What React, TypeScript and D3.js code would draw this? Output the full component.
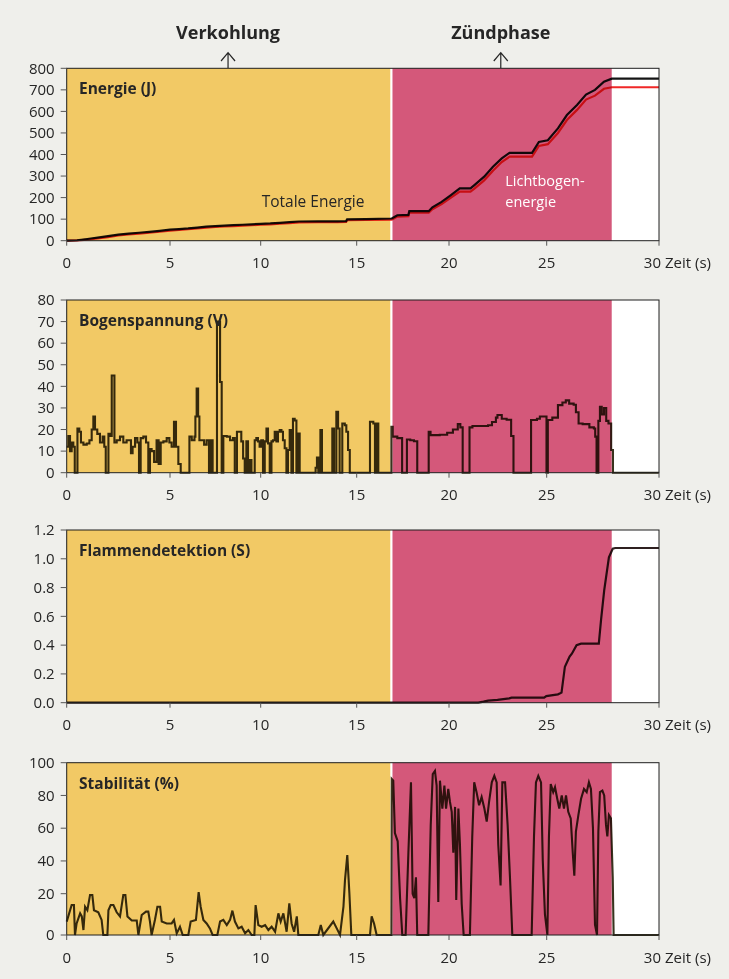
import React from 'react';
import * as d3 from 'd3';

type Pt = [number, number];

// time axis (s) and phases
const timeTicks = [0, 5, 10, 15, 20, 25, 30];
const phaseNames = ['Verkohlung', 'Zündphase'];
const phaseBounds = [0, 16.9, 27.9, 30];
const phaseLabelTimes = [8.2, 22.65];

const energyTicks = [0, 100, 200, 300, 400, 500, 600, 700, 800];
const voltageTicks = [0, 10, 20, 30, 40, 50, 60, 70, 80];
const flameTicks = [0, 0.2, 0.4, 0.6, 0.8, 1.0, 1.2];
const stabilityTicks = [0, 20, 40, 60, 80, 100];

// Energie (J)
const energyTotal: Pt[] = [
  [0, 0], [0.5, 2], [1, 8], [1.5, 14], [2, 21], [2.5, 28], [3, 33], [3.5, 37], [4, 41], [4.5, 46],
  [5, 51], [5.5, 54], [6, 57], [6.5, 61], [7, 65], [7.5, 68], [8, 70], [8.5, 72], [9, 74], [9.5, 76],
  [10, 78], [10.5, 80], [11, 83], [11.5, 86], [12, 89], [13, 90], [14, 90], [14.45, 91], [14.5, 99],
  [15.5, 100], [16.9, 103], [17.2, 118], [17.8, 120], [17.85, 137], [18.9, 137], [19.1, 155],
  [19.6, 180], [20.1, 212], [20.55, 243], [21.1, 243], [21.3, 258], [21.8, 297], [22.25, 343],
  [22.7, 382], [23.1, 408], [24.25, 408], [24.6, 458], [25.05, 466], [25.5, 521], [25.9, 583],
  [26.35, 630], [26.75, 678], [27.15, 700], [27.55, 738], [27.9, 752], [30, 752],
];
const energyArc: Pt[] = [
  [0, 0], [0.5, 1], [1, 5], [1.5, 11], [2, 17], [2.5, 24], [3, 29], [3.5, 33], [4, 37], [4.5, 42],
  [5, 47], [5.5, 50], [6, 53], [6.5, 57], [7, 61], [7.5, 64], [8, 66], [8.5, 68], [9, 70], [9.5, 72],
  [10, 74], [10.5, 76], [11, 79], [11.5, 82], [12, 85], [13, 86], [14, 86], [14.45, 87], [14.5, 95],
  [15.5, 96], [16.9, 98], [17.2, 112], [17.8, 114], [17.85, 130], [18.9, 130], [19.1, 146],
  [19.6, 170], [20.1, 200], [20.55, 228], [21.1, 228], [21.3, 242], [21.8, 280], [22.25, 325],
  [22.7, 365], [23.1, 390], [24.25, 390], [24.6, 440], [25.05, 448], [25.5, 500], [25.9, 560],
  [26.35, 607], [26.75, 655], [27.15, 673], [27.55, 705], [27.9, 712], [30, 712],
];

// Bogenspannung (V)
const voltage: Pt[] = [
  [0, 12], [0.08, 17], [0.16, 10], [0.24, 14], [0.32, 12], [0.39, 0], [0.52, 20.5], [0.61, 19],
  [0.69, 14], [0.81, 13], [0.97, 13.5], [1.1, 15], [1.21, 20], [1.29, 26], [1.37, 20], [1.48, 18],
  [1.61, 14], [1.74, 16.7], [1.82, 12], [1.89, 0], [2.02, 18], [2.1, 17], [2.18, 45], [2.31, 14],
  [2.42, 15], [2.58, 16.7], [2.74, 14], [2.9, 15], [3.11, 9], [3.19, 12], [3.31, 16], [3.42, 14],
  [3.5, 0], [3.58, 16], [3.71, 16.7], [3.84, 14], [3.95, 0], [4.03, 11], [4.11, 10], [4.23, 5],
  [4.35, 15], [4.45, 4], [4.55, 14], [4.68, 14.5], [4.84, 16], [4.97, 14], [5.09, 12], [5.22, 23.6],
  [5.33, 12], [5.46, 4], [5.59, 0], [6.07, 16.7], [6.2, 15], [6.35, 16.7], [6.4, 26], [6.47, 39],
  [6.55, 26], [6.62, 15], [6.75, 15], [6.88, 13], [7.02, 15], [7.15, 0], [7.24, 15], [7.35, 0],
  [7.59, 70], [7.76, 42], [7.85, 0], [7.94, 17], [8.13, 16.7], [8.31, 15], [8.47, 16], [8.57, 0],
  [8.69, 19], [8.93, 14.5], [9.03, 6.6], [9.12, 0], [9.21, 14.5], [9.3, 0], [9.39, 5.9], [9.49, 0],
  [9.67, 15], [9.76, 16], [9.85, 14.5], [9.94, 12], [10.03, 15], [10.12, 0], [10.21, 14.5],
  [10.3, 20.5], [10.38, 13.6], [10.47, 0], [10.56, 14.5], [10.64, 15], [10.73, 19], [10.82, 14.5],
  [10.9, 19], [10.99, 19.8], [11.08, 19], [11.16, 15], [11.25, 11.3], [11.34, 0], [11.42, 10.5],
  [11.51, 19.8], [11.6, 0], [11.68, 25], [11.77, 24.2], [11.86, 0], [11.94, 18.1], [12.03, 0],
  [12.86, 2.3], [12.93, 7], [13.0, 0], [13.11, 19.8], [13.19, 0], [13.73, 20.5], [13.82, 0],
  [13.94, 28.2], [14.03, 20.5], [14.11, 0], [14.25, 22.8], [14.38, 22], [14.46, 19], [14.55, 10.5],
  [14.64, 0], [15.72, 23.6], [15.9, 22.8], [15.99, 0], [16.08, 22.8], [16.17, 0], [16.88, 21.3],
  [16.95, 16.7], [17.2, 16], [17.46, 0], [17.72, 15.4], [17.9, 15], [18.1, 14.6], [18.28, 0],
  [18.9, 19], [19.0, 17.4], [19.5, 17.6], [19.9, 18.5], [20.2, 20], [20.45, 22.5], [20.58, 21],
  [20.7, 0], [21.05, 21], [21.2, 21.6], [22.0, 22], [22.2, 23.5], [22.4, 25.5], [22.48, 26.7],
  [22.7, 25], [22.95, 24.5], [23.18, 17], [23.3, 0], [24.2, 24.4], [24.5, 25], [24.65, 26],
  [24.99, 0], [25.05, 24.4], [25.25, 25.5], [25.5, 31.3], [25.7, 32.5], [25.85, 33.5], [26.0, 32],
  [26.2, 31.5], [26.3, 28], [26.42, 22.8], [26.6, 22.5], [26.9, 21], [27.1, 20.5], [27.16, 16.7],
  [27.22, 0], [27.3, 24], [27.37, 30.5], [27.45, 27], [27.55, 30], [27.65, 24], [27.75, 22.8],
  [27.87, 10.5], [27.95, 0], [30, 0],
];

// Flammendetektion (S)
const flame: Pt[] = [
  [0, 0], [21.5, 0], [21.77, 0.007], [22.0, 0.014], [22.48, 0.02], [23.08, 0.03], [23.2, 0.035],
  [24.87, 0.035], [24.98, 0.046], [25.5, 0.058], [25.66, 0.07], [25.81, 0.25], [26.02, 0.32],
  [26.12, 0.34], [26.33, 0.4], [26.53, 0.41], [27.32, 0.41], [27.42, 0.575], [27.56, 0.78],
  [27.77, 1.01], [27.94, 1.07], [28.05, 1.075], [30, 1.075],
];

// Stabilität (%)
const stability: Pt[] = [
  [0, 6.5], [0.24, 14.5], [0.35, 14.5], [0.4, 0], [0.48, 5.6], [0.65, 10.5], [0.73, 9], [0.81, 2.4],
  [0.89, 13.7], [1.0, 12], [1.13, 19.4], [1.24, 19.4], [1.32, 12], [1.53, 11], [1.69, 7.3], [1.77, 0],
  [1.97, 0], [2.02, 12], [2.13, 14.5], [2.26, 14.5], [2.42, 11], [2.58, 9], [2.74, 19.4], [2.84, 19.4],
  [2.94, 9], [3.15, 7], [3.39, 7], [3.47, 0], [3.63, 9.7], [3.84, 11.3], [3.95, 11.3], [4.03, 6.5],
  [4.11, 0], [4.27, 7.3], [4.39, 13.7], [4.52, 13.7], [4.6, 6.5], [4.84, 5.6], [5.09, 5.6], [5.22, 7.3],
  [5.37, 0.8], [5.55, 4], [5.7, 0], [6.01, 0], [6.14, 6.5], [6.43, 7.3], [6.58, 21], [6.69, 13.7],
  [6.84, 7.3], [7.02, 5.6], [7.2, 3.2], [7.35, 0], [7.61, 0], [7.76, 6.5], [7.94, 7.3], [8.13, 4.8],
  [8.31, 7.3], [8.44, 11.8], [8.58, 6.5], [8.77, 3.2], [8.95, 4], [9.14, 0.8], [9.32, 2.4], [9.5, 0],
  [9.65, 0], [9.72, 14.5], [9.87, 4.8], [10.05, 4], [10.23, 4.8], [10.4, 2.4], [10.57, 4], [10.75, 1.6],
  [10.92, 10.5], [11.04, 6.5], [11.18, 10.5], [11.35, 1.6], [11.49, 15.3], [11.61, 5.6], [11.74, 1.6],
  [11.88, 9], [11.96, 0], [13.0, 0], [13.13, 4.8], [13.26, 0], [13.78, 6.5], [13.96, 3.2], [14.13, 0],
  [14.31, 13.7], [14.39, 28.3], [14.51, 43.6], [14.62, 20], [14.72, 0], [15.72, 0], [15.81, 9],
  [15.94, 5.6], [16.08, 0], [16.88, 0], [16.9, 90], [16.98, 89], [17.07, 57], [17.22, 52],
  [17.35, 17.8], [17.47, 0], [17.65, 0], [17.8, 45], [17.94, 88], [18.03, 20], [18.12, 17.8],
  [18.21, 30], [18.28, 0], [18.88, 0], [19.01, 62], [19.12, 93], [19.24, 95], [19.33, 86], [19.42, 16],
  [19.51, 89], [19.64, 72], [19.75, 86], [19.84, 72], [19.96, 84], [20.05, 76], [20.14, 70], [20.22, 45],
  [20.31, 73], [20.37, 17], [20.48, 72], [20.56, 50], [20.65, 15], [20.75, 0], [21.07, 0], [21.19, 55],
  [21.29, 88], [21.41, 82], [21.54, 74], [21.67, 79], [21.81, 72], [21.93, 64], [22.05, 76], [22.19, 88],
  [22.32, 92], [22.44, 88], [22.52, 50], [22.64, 25], [22.73, 88], [22.87, 88], [23.0, 62], [23.12, 30],
  [23.24, 0], [24.23, 0], [24.35, 55], [24.45, 88], [24.57, 92], [24.71, 88], [24.8, 40], [24.91, 10],
  [25.03, 0], [25.1, 55], [25.18, 87], [25.29, 82], [25.37, 85], [25.47, 78], [25.56, 72], [25.67, 80],
  [25.77, 72], [25.86, 80], [25.96, 70], [26.07, 66], [26.16, 45], [26.23, 31], [26.3, 58], [26.41, 68],
  [26.53, 78], [26.66, 84], [26.78, 82], [26.88, 88], [26.97, 84], [27.06, 60], [27.15, 5], [27.24, 0],
  [27.3, 58], [27.37, 82], [27.48, 83], [27.56, 80], [27.64, 62], [27.7, 55], [27.77, 68], [27.86, 66],
  [27.94, 30], [27.98, 0], [30, 0],
];

const W = 729;
const H = 979;
const FONT = "'Open Sans', 'Noto Sans', sans-serif";
const TXT = '#262626';
const phaseColors = ['#f2c965', '#d4587a', '#ffffff'];

// the printed time axis is not quite even, so the scale is piecewise
const x = d3.scaleLinear().domain(timeTicks).range([66.7, 170, 260.7, 356.7, 449, 546.7, 659]);

type Series = { data: Pt[]; color: string; width: number; step?: boolean };
type PanelProps = {
  label: string;
  top: number;
  bottom: number;
  domain: number[];
  ticks: number[];
  fmt: (v: number) => string;
  series: Series[];
  children?: (y: d3.ScaleLinear<number, number>) => React.ReactNode;
};

const Panel = ({ label, top, bottom, domain, ticks, fmt, series, children }: PanelProps) => {
  const [x0, x1] = [x(0), x(30)];
  // bottom part of some axes is stretched, again piecewise
  const range = domain.length === 2 ? [bottom, top] : [bottom, bottom - 41.3, top];
  const y = d3.scaleLinear().domain(domain).range(range);

  return (
    <g>
      {phaseColors.map((c, i) => (
        <rect key={i} x={x(phaseBounds[i])} y={top} width={x(phaseBounds[i + 1]) - x(phaseBounds[i])}
          height={bottom - top} fill={c} />
      ))}
      <rect x={x(phaseBounds[1]) - 1.5} y={top} width={2.2} height={bottom - top} fill="#ffffff" />
      {series.map((s, i) => {
        const line = d3.line<Pt>()
          .x((d) => x(d[0]))
          .y((d) => y(d[1]))
          .curve(s.step ? d3.curveStepAfter : d3.curveLinear);
        return (
          <path key={i} d={line(s.data) || ''} fill="none" stroke={s.color} strokeWidth={s.width}
            strokeLinejoin="miter" style={{ mixBlendMode: 'multiply' }} />
        );
      })}
      <rect x={x0} y={top} width={x1 - x0} height={bottom - top} fill="none" stroke="#1e1e1e" strokeWidth={1} />
      {ticks.map((t) => (
        <g key={t}>
          <line x1={x0 - 6} x2={x0} y1={y(t)} y2={y(t)} stroke="#555" strokeWidth={1} />
          <text x={x0 - 12} y={y(t)} dy="0.35em" textAnchor="end" fontSize={15} fill={TXT}>{fmt(t)}</text>
        </g>
      ))}
      {timeTicks.map((t, i) => (
        <g key={t}>
          <line x1={x(t)} x2={x(t)} y1={bottom} y2={bottom + 5} stroke="#555" strokeWidth={1} />
          <text x={i === timeTicks.length - 1 ? x(t) + 2 : x(t)} y={bottom + 27.6}
            textAnchor={i === timeTicks.length - 1 ? 'end' : 'middle'} fontSize={15} fill={TXT}>{t}</text>
        </g>
      ))}
      <text x={x1 + 6} y={bottom + 27.6} fontSize={15} fill={TXT}>Zeit (s)</text>
      <text x={79} y={top + 25.8} fontSize={15.5} fontWeight="bold" fill={TXT}>{label}</text>
      {children && children(y)}
    </g>
  );
};

export default function App() {
  return (
    <svg width={W} height={H} style={{ position: 'absolute', left: 0, top: 0 }} fontFamily={FONT}>
      <rect width={W} height={H} fill="#efefeb" />
      {phaseNames.map((n, i) => {
        const cx = x(phaseLabelTimes[i]);
        return (
          <g key={n}>
            <text x={cx} y={39.3} textAnchor="middle" fontSize={18} fontWeight="bold" fill={TXT}>{n}</text>
            <path d={`M${cx},68 V52.7 M${cx - 7},61 L${cx},52.7 L${cx + 7},61`} fill="none" stroke={TXT} strokeWidth={1.2} />
          </g>
        );
      })}
      <Panel label="Energie (J)" top={68.3} bottom={240.7} domain={[0, 800]} ticks={energyTicks}
        fmt={(v) => String(v)}
        series={[
          { data: energyTotal, color: '#141414', width: 2.2 },
          { data: energyArc, color: '#f02828', width: 2.2 },
        ]}>
        {(y) => (
          <g>
            <text x={x(10.05)} y={y(158)} fill={TXT} fontSize={15.5}>Totale Energie</text>
            <text x={x(22.88)} y={y(252)} fill="#ffffff" fontSize={14.5}>Lichtbogen-</text>
            <text x={x(22.88)} y={y(157)} fill="#ffffff" fontSize={14.5}>energie</text>
          </g>
        )}
      </Panel>
      <Panel label="Bogenspannung (V)" top={300} bottom={472.7} domain={[0, 80]} ticks={voltageTicks}
        fmt={(v) => String(v)}
        series={[{ data: voltage, color: '#38341e', width: 2.1, step: true }]} />
      <Panel label="Flammendetektion (S)" top={530} bottom={702.7} domain={[0, 1.2]} ticks={flameTicks}
        fmt={d3.format('.1f')}
        series={[{ data: flame, color: '#2e2020', width: 2.2 }]} />
      <Panel label="Stabilität (%)" top={762.7} bottom={935} domain={[0, 20, 100]} ticks={stabilityTicks}
        fmt={(v) => String(v)}
        series={[{ data: stability, color: '#38341e', width: 2.1 }]} />
    </svg>
  );
}
